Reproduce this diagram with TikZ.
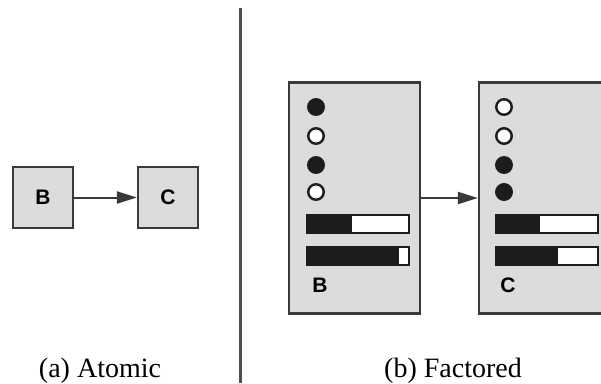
\documentclass[tikz,border=0pt]{standalone}
\usepackage{fontspec}
\setmainfont{Liberation Serif}
\setsansfont{Liberation Sans}
\usetikzlibrary{arrows.meta}
\definecolor{boxfill}{HTML}{DCDCDC}
\definecolor{edge}{HTML}{3A3A3A}
\definecolor{ink}{HTML}{1C1C1C}
\tikzset{
  state/.style={draw=edge, fill=boxfill, line width=2.2pt, inner sep=0pt},
  smallstate/.style={state, minimum width=60pt, minimum height=61pt,
    font=\sffamily\bfseries\fontsize{21}{21}\selectfont},
  bigstate/.style={state, minimum width=131pt, minimum height=231pt},
  on/.style={circle, draw=ink, fill=ink, line width=2.4pt, minimum size=15.5pt, inner sep=0pt},
  off/.style={circle, draw=ink, fill=white, line width=2.4pt, minimum size=15.5pt, inner sep=0pt},
  bar/.style={draw=ink, fill=white, line width=1.6pt, minimum width=102pt,
    minimum height=18pt, inner sep=0pt,
    path picture={\fill[ink] (path picture bounding box.south west)
      rectangle ([xshift=#1]path picture bounding box.north west);}},
  tag/.style={font=\sffamily\bfseries\fontsize{21}{21}\selectfont, inner sep=0pt},
  link/.style={draw=edge, line width=2pt, -{Triangle[length=20pt,width=12pt]}},
  caption/.style={font=\fontsize{28}{28}\selectfont, inner sep=0pt},
}
\begin{document}
\begin{tikzpicture}[x=1pt, y=-1pt]
  \useasboundingbox (0,0) rectangle (601,383);
  \clip (0,0) rectangle (601,383);

  % atomic representation
  \node[smallstate] (aB) at (43,197.5) {B};
  \node[smallstate] (aC) at (168,197.5) {C};
  \draw[link] (aB) -- (aC);

  % divider
  \coordinate (dtop) at (240,8);
  \coordinate (dbot) at (240,383);
  \draw[draw=edge!90, line width=3pt] (dtop) -- (dbot);

  % factored representation
  \node[bigstate] (fB) at (354.5,198) {};
  \node[bigstate] (fC) at (544.5,198) {};
  \draw[link] (fB.east) -- (fC.west);

  \node[on]  (b1) at (316,107) {};
  \node[off] (b2) at (316,136) {};
  \node[on]  (b3) at (316,165) {};
  \node[off] (b4) at (316,192) {};
  \node[bar=45pt] (b5) at (358,224) {};
  \node[bar=92pt] (b6) at (358,256) {};
  \node[tag] (b7) at (320,285) {B};

  \node[off] (c1) at (504,107) {};
  \node[off] (c2) at (504,136) {};
  \node[on]  (c3) at (504,165) {};
  \node[on]  (c4) at (504,192) {};
  \node[bar=44pt] (c5) at (547,224) {};
  \node[bar=62pt] (c6) at (547,256) {};
  \node[tag] (c7) at (508,285) {C};

  % captions
  \node[caption] (capA) at (100,371) {(a) Atomic};
  \node[caption] (capB) at (453,371) {(b) Factored};
\end{tikzpicture}
\end{document}
